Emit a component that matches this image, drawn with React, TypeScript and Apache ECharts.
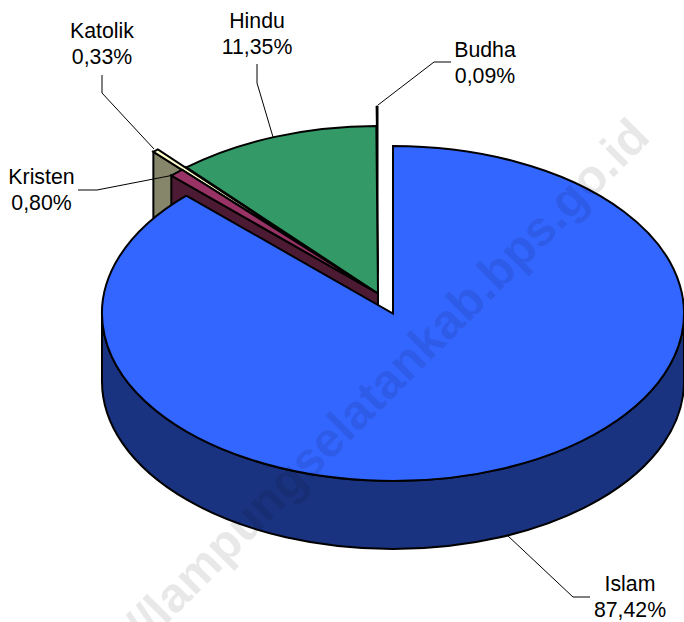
import React, { useEffect, useRef } from "react";
import * as echarts from "echarts";

const religions = ["Islam", "Kristen", "Katolik", "Hindu", "Budha"];
const shares = [87.42, 0.8, 0.33, 11.35, 0.09];

const topColors = ["#3366FF", "#993366", "#FFFFCC", "#339966", "#000000"];
const wallColors = ["#1A3380", "#4D1A33", "#86866B", "#1A4D33", "#000000"];
const outlineWidths = [2, 2, 2, 2, 1];

// geometry of the tilted pie (pixels)
const CX = 393;
const CY = 313.5;
const RX = 291;
const RY = 167.5;
const DEPTH = 68;
const explodeX = [0, -15, -43.5, -15, -15];
const explodeY = [0, -20, -38, -20, -40];
const drawOrder = [4, 3, 2, 1, 0];

// leader lines and label centres
const leaders = [
  [[507, 535], [573, 597], [590, 597]],
  [[174, 175], [97, 190], [78, 190]],
  [[154, 149], [102, 93], [102, 75]],
  [[273, 137], [257, 83], [257, 64]],
  [[378, 105], [434, 62], [451, 62]],
];
const labelX = [630, 41.5, 102, 257, 485];
const labelY = [597, 190, 44, 34, 63];

const WATERMARK = "//lampungselatankab.bps.go.id";

const total = shares.reduce((a, b) => a + b, 0);
const startShares = shares.map((_, i) => shares.slice(0, i).reduce((a, b) => a + b, 0));
const FONT = '21.3px "Liberation Sans", Arial, sans-serif';

const pt = (cx: number, cy: number, deg: number) => {
  const a = (deg * Math.PI) / 180;
  return [cx + RX * Math.sin(a), cy - RY * Math.cos(a)];
};

const renderSlice = (_params: any, api: any) => {
  const idx = api.value(0);
  const share = api.value(1);
  const start = api.value(2);
  const a0 = (start / total) * 360;
  const a1 = ((start + share) / total) * 360;
  const cx = CX + explodeX[idx];
  const cy = CY + explodeY[idx];
  const p0 = pt(cx, cy, a0);
  const p1 = pt(cx, cy, a1);
  const large = a1 - a0 > 180 ? 1 : 0;
  const stroke = { stroke: "#000", lineWidth: outlineWidths[idx], lineJoin: "miter" };
  const children: any[] = [];
  if (idx === 0) {
    // outer rim, visible only on the front half of the ellipse
    const l = [CX - RX, CY];
    const r = [CX + RX, CY];
    children.push({
      type: "path",
      shape: {
        pathData: `M${r[0]} ${r[1]}L${r[0]} ${r[1] + DEPTH}A${RX} ${RY} 0 0 1 ${l[0]} ${l[1] + DEPTH}L${l[0]} ${l[1]}A${RX} ${RY} 0 0 0 ${r[0]} ${r[1]}Z`,
      },
      style: { fill: wallColors[idx], ...stroke },
    });
  } else {
    // cut face below the leading radial edge
    children.push({
      type: "path",
      shape: {
        pathData: `M${cx} ${cy}L${p0[0]} ${p0[1]}L${p0[0]} ${p0[1] + DEPTH}L${cx} ${cy + DEPTH}Z`,
      },
      style: { fill: wallColors[idx], ...stroke },
    });
  }
  children.push({
    type: "path",
    shape: {
      pathData: `M${cx} ${cy}L${p0[0]} ${p0[1]}A${RX} ${RY} 0 ${large} 1 ${p1[0]} ${p1[1]}Z`,
    },
    style: { fill: topColors[idx], ...stroke },
  });
  return { type: "group", children };
};

const renderLabel = (_params: any, api: any) => {
  const idx = api.value(0);
  const share = api.value(1);
  return {
    type: "group",
    children: [
      {
        type: "polyline",
        shape: { points: leaders[idx] },
        style: { stroke: "#000", lineWidth: 1, fill: "none" },
      },
      {
        type: "text",
        style: {
          x: labelX[idx],
          y: labelY[idx],
          text: `${religions[idx]}\n${share.toFixed(2).replace(".", ",")}%`,
          font: FONT,
          lineHeight: 26,
          align: "center",
          verticalAlign: "middle",
          fill: "#000",
        },
      },
    ],
  };
};

export default function App() {
  const ref = useRef<HTMLDivElement>(null);
  useEffect(() => {
    document.body.style.margin = "0";
    const chart = echarts.init(ref.current!, null, { renderer: "svg" });
    chart.setOption({
      animation: false,
      backgroundColor: "#fff",
      series: [
        {
          type: "custom",
          coordinateSystem: "none",
          silent: true,
          z: 2,
          renderItem: renderSlice,
          data: drawOrder.map((i) => [i, shares[i], startShares[i]]),
        },
        {
          type: "custom",
          coordinateSystem: "none",
          silent: true,
          z: 3,
          renderItem: renderLabel,
          data: shares.map((s, i) => [i, s]),
        },
      ],
      graphic: [
        {
          type: "text",
          z: 100,
          silent: true,
          x: 640,
          y: 127,
          rotation: (45 * Math.PI) / 180,
          style: {
            text: WATERMARK,
            font: 'bold 49px "Liberation Sans", Arial, sans-serif',
            fill: "rgba(0,0,0,0.09)",
            align: "right",
            verticalAlign: "middle",
          },
        },
      ],
    });
    return () => chart.dispose();
  }, []);
  return <div ref={ref} style={{ width: 684, height: 622 }} />;
}
